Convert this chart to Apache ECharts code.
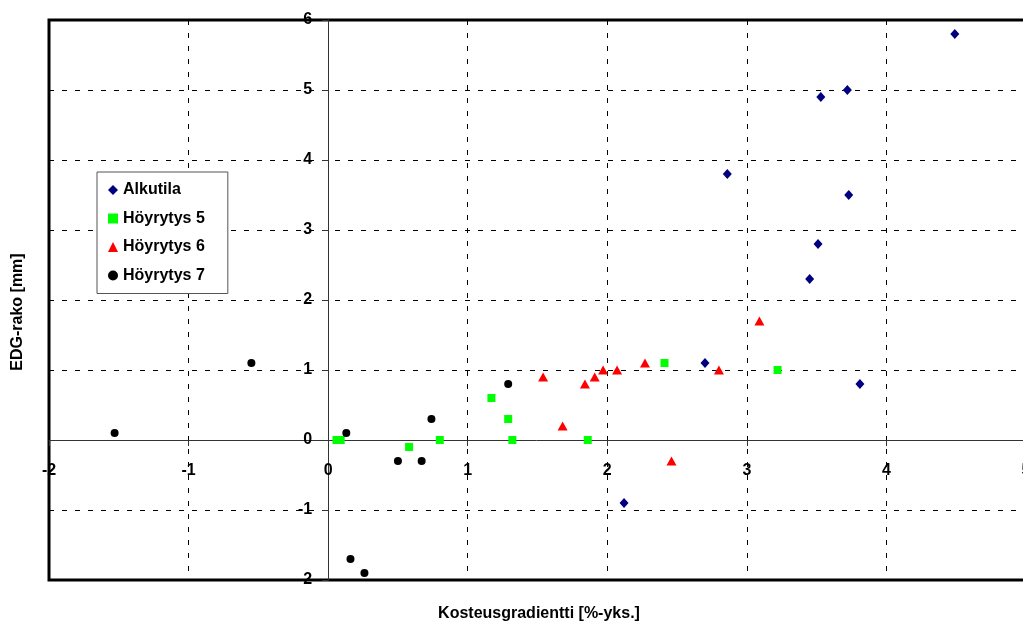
<!DOCTYPE html>
<html>
<head>
<meta charset="utf-8">
<script src="https://cdn.jsdelivr.net/npm/echarts@6/dist/echarts.min.js"></script>
<style>html,body{margin:0;padding:0;background:#fff;}#c{width:1023px;height:626px;}</style>
</head>
<body>
<div id="c"></div>
<script>
const seriesNames = ['Alkutila', 'Höyrytys 5', 'Höyrytys 6', 'Höyrytys 7'];
const alkutila = [[4.49,5.8],[3.53,4.9],[3.72,5.0],[2.86,3.8],[3.73,3.5],[3.51,2.8],[3.45,2.3],[3.81,0.8],[2.70,1.1],[2.12,-0.9]];
const hoyrytys5 = [[0.06,0.0],[0.09,0.0],[0.58,-0.1],[0.80,0.0],[1.17,0.6],[1.29,0.3],[1.32,0.0],[1.86,0.0],[2.41,1.1],[3.22,1.0]];
const hoyrytys6 = [[1.54,0.9],[1.68,0.2],[1.84,0.8],[1.91,0.9],[1.97,1.0],[2.07,1.0],[2.27,1.1],[2.46,-0.3],[2.80,1.0],[3.09,1.7]];
const hoyrytys7 = [[-1.53,0.1],[-0.55,1.1],[0.13,0.1],[0.16,-1.7],[0.26,-1.9],[0.50,-0.3],[0.67,-0.3],[0.74,0.3],[1.29,0.8]];
const xTitle = 'Kosteusgradientti [%-yks.]';
const yTitle = 'EDG-rako [mm]';

const font = 'Liberation Sans, Arial, sans-serif';
const chart = echarts.init(document.getElementById('c'), null, {renderer: 'canvas'});
const gridDash = {color: '#000', width: 1, type: [5, 8]};
const gLeft = 49, gTop = 20, gBottom = 46, gRight = -3;
const gW = 1023 - gLeft - gRight, gH = 626 - gTop - gBottom;
const xMin = -2, xMax = 5, yMin = -2, yMax = 6;
// offsets to bring axes to the zero crossing (derived from the axis scales)
const yAxisOffset = -gW * (0 - xMin) / (xMax - xMin);
const xAxisOffset = -gH * (0 - yMin) / (yMax - yMin);
chart.setOption({
  animation: false,
  backgroundColor: '#fff',
  grid: {left: gLeft, top: gTop, bottom: gBottom, right: gRight, show: true, borderColor: '#000', borderWidth: 3, backgroundColor: 'transparent', containLabel: false, outerBoundsMode: 'none'},
  xAxis: {
    type: 'value', min: xMin, max: xMax, interval: 1, position: 'bottom', offset: xAxisOffset,
    axisLine: {show: true, onZero: false, lineStyle: {color: '#333', width: 1}},
    axisTick: {show: true, inside: false, length: 6, lineStyle: {color: '#333'}},
    splitLine: {show: true, lineStyle: gridDash},
    axisLabel: {margin: 23, fontFamily: font, fontWeight: 'bold', fontSize: 16, color: '#000'}
  },
  yAxis: {
    type: 'value', min: yMin, max: yMax, interval: 1, position: 'left', offset: yAxisOffset,
    axisLine: {show: true, onZero: false, lineStyle: {color: '#333', width: 1}},
    axisTick: {show: true, inside: false, length: 6, lineStyle: {color: '#333'}},
    splitLine: {show: true, lineStyle: gridDash},
    axisLabel: {margin: 16, fontFamily: font, fontWeight: 'bold', fontSize: 16, color: '#000'}
  },
  legend: {
    orient: 'vertical', left: 97, top: 172,
    data: seriesNames,
    backgroundColor: '#fff', borderColor: '#555', borderWidth: 1,
    padding: [10, 23, 10, 11],
    itemWidth: 10, itemHeight: 10, itemGap: 12.5,
    textStyle: {fontFamily: font, fontWeight: 'bold', fontSize: 16, color: '#000'}
  },
  graphic: [
    {type: 'text', x: 539, y: 614, style: {text: xTitle, font: 'bold 16px ' + font, fill: '#000', textAlign: 'center', textVerticalAlign: 'middle'}},
    {type: 'text', rotation: Math.PI / 2, x: 18, y: 312, style: {text: yTitle, font: 'bold 16px ' + font, fill: '#000', textAlign: 'center', textVerticalAlign: 'middle'}}
  ],
  series: [
    {name: seriesNames[0], type: 'scatter', data: alkutila, symbol: 'diamond', symbolSize: [9, 10], itemStyle: {color: '#000080', opacity: 1}, z: 5},
    {name: seriesNames[1], type: 'scatter', data: hoyrytys5, symbol: 'rect', symbolSize: 8, itemStyle: {color: '#00ff00', opacity: 1}, z: 4},
    {name: seriesNames[2], type: 'scatter', data: hoyrytys6, symbol: 'triangle', symbolSize: [10, 9], itemStyle: {color: '#ff0000', opacity: 1}, z: 5},
    {name: seriesNames[3], type: 'scatter', data: hoyrytys7, symbol: 'circle', symbolSize: 8, itemStyle: {color: '#000', opacity: 1}, z: 5}
  ]
});
</script>
</body>
</html>
